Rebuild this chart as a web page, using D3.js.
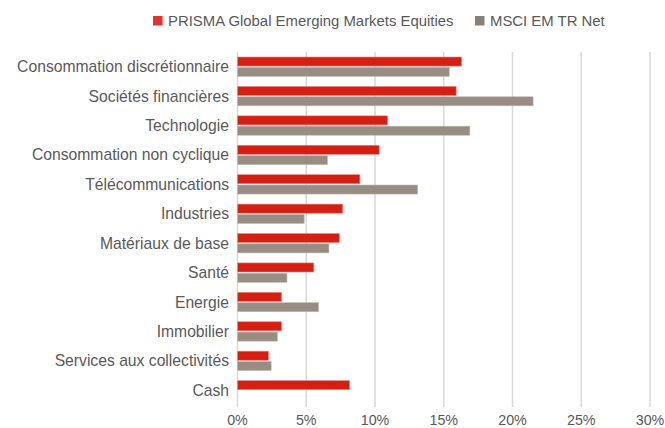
<!DOCTYPE html>
<html>
<head>
<meta charset="utf-8">
<script src="https://cdn.jsdelivr.net/npm/d3@7"></script>
<style>
	body { margin: 0; background: #fff; }
	text { font-family: "Liberation Sans", Arial, sans-serif; fill: #595959; }
</style>
</head>
<body>
<div id="svg-container"></div>
<script>
// DATA
const sectors = [
	"Consommation discrétionnaire",
	"Sociétés financières",
	"Technologie",
	"Consommation non cyclique",
	"Télécommunications",
	"Industries",
	"Matériaux de base",
	"Santé",
	"Energie",
	"Immobilier",
	"Services aux collectivités",
	"Cash"
];
const seriesNames = ["PRISMA Global Emerging Markets Equities", "MSCI EM TR Net"];
const prisma = [16.3, 15.9, 10.9, 10.3, 8.9, 7.65, 7.4, 5.55, 3.2, 3.2, 2.25, 8.15];
const msci = [15.4, 21.5, 16.9, 6.55, 13.1, 4.85, 6.65, 3.6, 5.9, 2.9, 2.45, 0];
const xTicks = [0, 5, 10, 15, 20, 25, 30];


// CHART
function graphData() {
	// dimension
	const w = 665;
	const h = 428;
	const padTop = 52;
	const padBottom = 23;
	const padLeft = 237.5;
	const padRight = 15;

	const colors = ["#d41f12", "#978d82"];
	const legendColors = ["#e8302c", "#8a7f76"];

	// scales
	const xScale = d3.scaleLinear()
		.domain([0, 30])
		.range([padLeft, w - padRight]);
	const yScale = d3.scaleBand()
		.domain(sectors)
		.range([padTop, h - padBottom])
		.paddingInner(0.34)
		.paddingOuter(0.17);
	const inner = d3.scaleBand()
		.domain([0, 1])
		.range([0, yScale.bandwidth()])
		.paddingInner(0.12);

	// svg
	const svg = d3.select("#svg-container")
		.append("svg")
		.attr("width", w)
		.attr("height", h);

	// gridlines
	svg.append("g")
		.selectAll("line")
		.data(xTicks)
		.enter()
		.append("line")
		.attr("x1", d => xScale(d))
		.attr("x2", d => xScale(d))
		.attr("y1", padTop)
		.attr("y2", h - padBottom + 2)
		.attr("stroke", "#d9d9d9")
		.attr("stroke-width", 1.5);

	// x-axis labels
	svg.append("g")
		.selectAll("text")
		.data(xTicks)
		.enter()
		.append("text")
		.text(d => d + "%")
		.attr("x", d => xScale(d))
		.attr("y", 425)
		.attr("text-anchor", "middle")
		.style("font-size", "14.3px");

	// y-axis labels
	svg.append("g")
		.selectAll("text")
		.data(sectors)
		.enter()
		.append("text")
		.text(d => d)
		.attr("x", 229)
		.attr("y", d => yScale(d) + yScale.bandwidth() / 2)
		.attr("dy", "0.35em")
		.attr("text-anchor", "end")
		.style("font-size", "15.7px");

	// bars
	const series = [prisma, msci];
	series.forEach((vals, s) => {
		svg.append("g")
			.selectAll("rect")
			.data(sectors)
			.enter()
			.append("rect")
			.attr("x", xScale(0))
			.attr("y", d => yScale(d) + inner(s))
			.attr("width", (d, i) => xScale(vals[i]) - xScale(0))
			.attr("height", inner.bandwidth())
			.attr("fill", colors[s])
			.attr("stroke", s === 0 ? "#ec8a82" : "#c4bcb4")
			.attr("stroke-width", (d, i) => vals[i] > 0 ? 0.6 : 0);
	});

	// legend
	const legendX = [153, 475];
	const legend = svg.append("g");
	seriesNames.forEach((name, s) => {
		legend.append("rect")
			.attr("x", legendX[s])
			.attr("y", 16)
			.attr("width", 9.5)
			.attr("height", 9.5)
			.attr("fill", legendColors[s]);
		legend.append("text")
			.text(name)
			.attr("x", legendX[s] + 15)
			.attr("y", 26)
			.style("font-size", "14.9px");
	});
}

document.addEventListener('DOMContentLoaded', () => {
	graphData();
});
</script>
</body>
</html>
